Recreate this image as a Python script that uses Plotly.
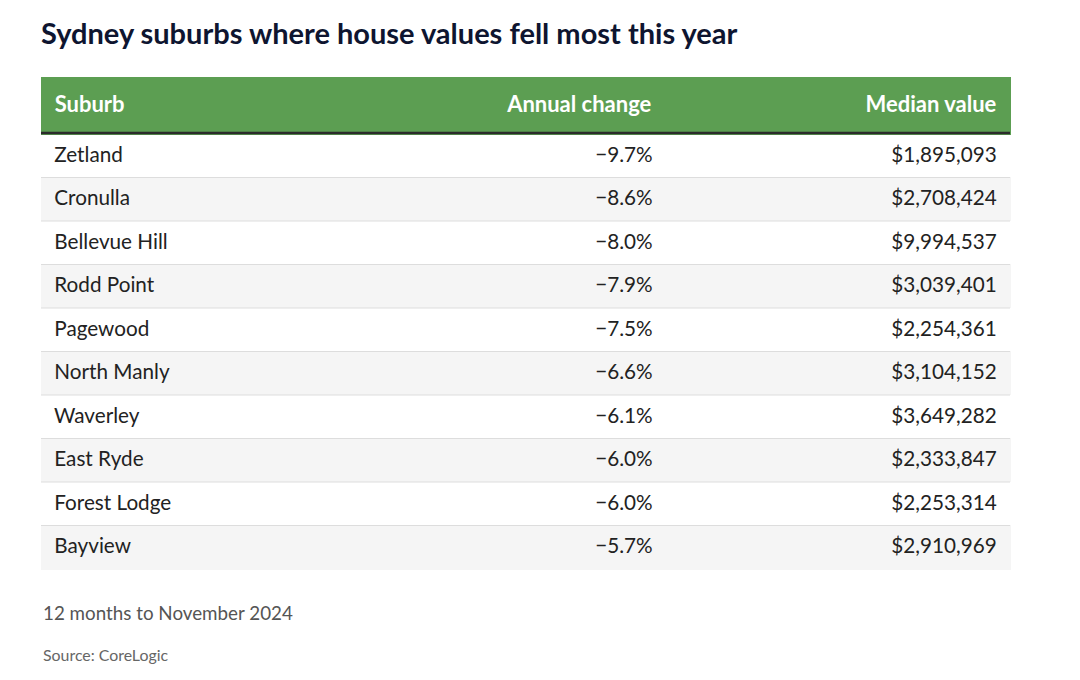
import plotly.graph_objects as go

suburbs = ["Zetland", "Cronulla", "Bellevue Hill", "Rodd Point", "Pagewood",
           "North Manly", "Waverley", "East Ryde", "Forest Lodge", "Bayview"]
annual_change = [-9.7, -8.6, -8.0, -7.9, -7.5, -6.6, -6.1, -6.0, -6.0, -5.7]
median_value = [1895093, 2708424, 9994537, 3039401, 2254361,
                3104152, 3649282, 2333847, 2253314, 2910969]
headers = ["Suburb", "Annual change", "Median value"]

W, H = 1080, 680
OFF = 8  # page body margin
X0, X1 = 41 - OFF, 1010 - OFF
HEAD_TOP = 77 - OFF
HEAD_H = 57
ROW_H = 43.5
TXT_SHIFT_H = 5.0
TXT_SHIFT_R = 4.0

NB = "\u00a0"
change_txt = ["\u2212{:.1f}%".format(abs(v)) + NB for v in annual_change]
value_txt = ["${:,}".format(v) + NB for v in median_value]
suburb_txt = [NB + s for s in suburbs]
head_txt = [NB + "<b>%s</b>" % headers[0]] + ["<b>%s</b>" % h + NB for h in headers[1:]]

n = len(suburbs)
row_fill = ["#ffffff" if i % 2 == 0 else "#f5f5f5" for i in range(n)]
FONT = "Lato, 'PT Sans', sans-serif"
GREEN = "#5c9e52"
CLEAR = "rgba(0,0,0,0)"
BODY_SIZE = 20.7
HEAD_SIZE = 22

def py(px):
    return 1 - px / H

# table 1: background fills (no text)
bg = go.Table(
    domain=dict(x=[X0 / W, X1 / W], y=[py(575 - OFF), py(HEAD_TOP)]),
    columnwidth=[312, 313, 344],
    header=dict(values=[""] * len(headers), fill_color=GREEN,
                line=dict(color=GREEN, width=1),
                font=dict(family=FONT, size=HEAD_SIZE, color=CLEAR),
                height=HEAD_H),
    cells=dict(values=[[""] * n for _ in headers],
               fill_color=[row_fill] * 3,
               line=dict(color=[row_fill] * 3, width=1),
               font=dict(family=FONT, size=BODY_SIZE, color=CLEAR),
               height=ROW_H),
)

# table 2: text, offset slightly downward for vertical centring
fg = go.Table(
    domain=dict(x=[X0 / W, X1 / W], y=[py(585 - OFF), py(HEAD_TOP + TXT_SHIFT_H)]),
    columnwidth=[312, 313, 344],
    header=dict(values=head_txt, fill_color=CLEAR,
                line=dict(color=CLEAR, width=0),
                align=["left", "right", "right"],
                font=dict(family=FONT, size=HEAD_SIZE, color="white"),
                height=HEAD_H - (TXT_SHIFT_H - TXT_SHIFT_R)),
    cells=dict(values=[suburb_txt, change_txt, value_txt],
               fill_color=CLEAR,
               line=dict(color=CLEAR, width=0),
               align=["left", "right", "right"],
               font=dict(family=FONT, size=BODY_SIZE, color="#222222"),
               height=ROW_H),
)

fig = go.Figure([bg, fg])

shapes = []
yh = HEAD_TOP + HEAD_H - 1  # dark rule under header
shapes.append(dict(type="line", xref="paper", yref="paper",
                   x0=X0 / W, x1=X1 / W, y0=py(yh), y1=py(yh),
                   line=dict(color="#2b2b2b", width=2.5), layer="above"))
for i in range(1, n):
    y = HEAD_TOP + HEAD_H + i * ROW_H
    shapes.append(dict(type="line", xref="paper", yref="paper",
                       x0=X0 / W, x1=X1 / W, y0=py(y), y1=py(y),
                       line=dict(color="#dddddd", width=1), layer="above"))

fig.update_layout(
    width=W, height=H,
    margin=dict(l=0, r=0, t=0, b=0),
    paper_bgcolor="white",
    plot_bgcolor="white",
    title=dict(text="<b>Sydney suburbs where house values fell most this year</b>",
               x=X0 / W, xanchor="left", xref="paper",
               y=py(34 - OFF), yanchor="middle", yref="container",
               font=dict(family=FONT, size=29, color="#0e1530")),
    shapes=shapes,
    annotations=[
        dict(text="12 months to November 2024", x=X0 / W, y=py(612 - OFF),
             xref="paper", yref="paper", xanchor="left", yanchor="middle",
             showarrow=False, font=dict(family=FONT, size=18.8, color="#555555")),
        dict(text="Source: CoreLogic", x=X0 / W, y=py(654 - OFF),
             xref="paper", yref="paper", xanchor="left", yanchor="middle",
             showarrow=False, font=dict(family=FONT, size=15.9, color="#666666")),
    ],
)

fig.write_html("out.html")
